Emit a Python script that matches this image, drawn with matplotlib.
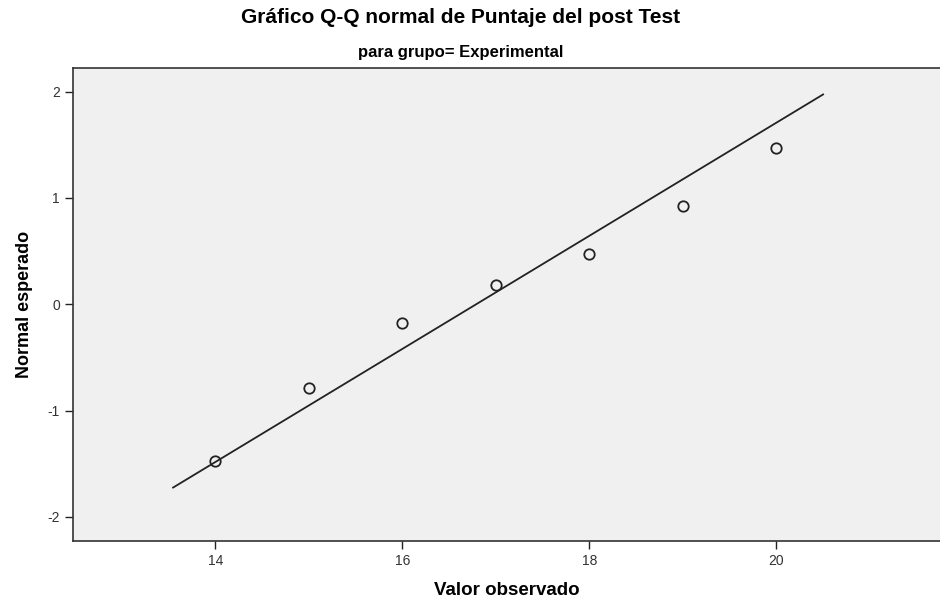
import matplotlib
matplotlib.use("Agg")
import matplotlib.pyplot as plt

# observed values and their expected normal scores
observed = [14, 15, 16, 17, 18, 19, 20]
expected = [-1.47, -0.79, -0.18, 0.18, 0.47, 0.92, 1.47]
# reference line: normal with this mean / sd, drawn over this x range
line_mean = 16.79
line_sd = 1.88
line_x = [13.55, 20.5]
xticks = [14, 16, 18, 20]
yticks = [-2, -1, 0, 1, 2]

plt.rcParams['font.family'] = ['Liberation Sans', 'DejaVu Sans']
plt.rcParams['axes.unicode_minus'] = False

fig = plt.figure(figsize=(9.4, 5.99), dpi=100)
ax = fig.add_axes([0.0777, 0.097, 0.9223, 0.79])
ax.set_facecolor('#F0F0F0')

line_y = [(x - line_mean) / line_sd for x in line_x]
ax.plot(line_x, line_y, color='#222222', lw=1.3)
ax.plot(observed, expected, 'o', mfc='none', mec='#222222', ms=7.5, mew=1.3)

ax.set_xlim(12.48, 21.75)
ax.set_ylim(-2.225, 2.225)
ax.set_xticks(xticks)
ax.set_yticks(yticks)
ax.tick_params(direction='out', length=6, width=1, colors='#222222',
               labelsize=10, labelcolor='#333333')
for s in ['left', 'bottom', 'top']:
    ax.spines[s].set_color('#333333')
    ax.spines[s].set_linewidth(1.2)
ax.spines['right'].set_visible(False)

ax.set_xlabel('Valor observado', fontsize=13.5, fontweight='bold', labelpad=10)
ax.set_ylabel('Normal esperado', fontsize=13, fontweight='bold', labelpad=10)

fig.text(0.49, 0.97, 'Gráfico Q-Q normal de Puntaje del post Test', ha='center', va='center',
         fontsize=15, fontweight='bold')
fig.text(0.49, 0.913, 'para grupo= Experimental', ha='center', va='center',
         fontsize=12, fontweight='bold')

fig.savefig('out.png', dpi=100)
